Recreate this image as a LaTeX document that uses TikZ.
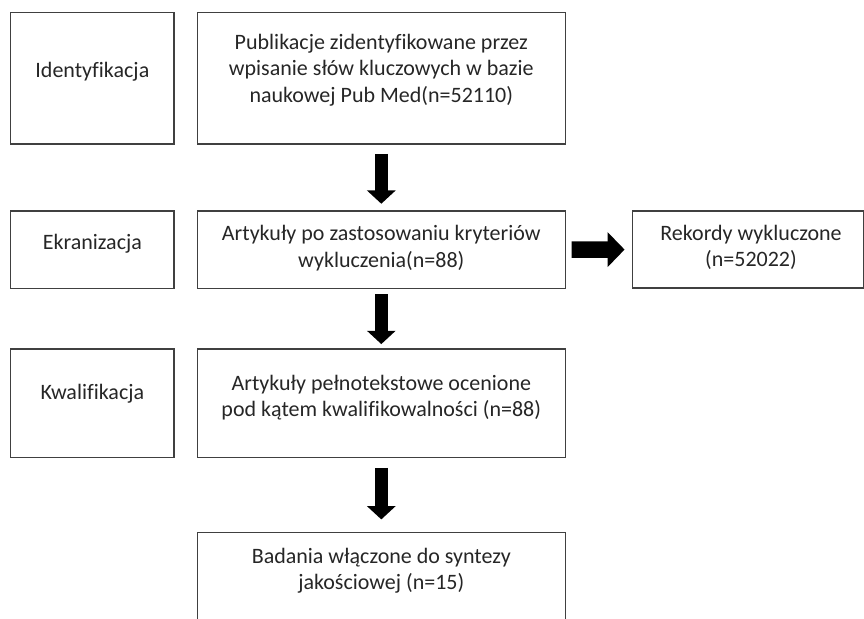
\documentclass[tikz,border=0pt]{standalone}
\usepackage{fontspec}
\setmainfont{Carlito}[Ligatures=NoCommon]
\usetikzlibrary{arrows.meta}

\tikzset{
  box/.style={draw=black!75, line width=0.9pt, rectangle, inner sep=0pt},
  boxtext/.style={align=center, text=black!85, inner sep=0pt,
    font=\fontsize{16.5}{20}\selectfont},
  downarrow/.style={-{Triangle[length=10pt,width=21pt]}, line width=9.5pt},
  sidearrow/.style={-{Triangle[length=12.75pt,width=25.5pt]}, line width=12.5pt}
}

\begin{document}
\begin{tikzpicture}[x=0.75pt,y=-0.75pt]

\useasboundingbox (0,0) rectangle (864,618);
\clip (0,0) rectangle (864,618);

% Ramki - etapy (lewa kolumna)
\node[box, minimum width=122.5pt, minimum height=98.5pt] (ident) at (92.35,78.35) {};
\node[box, minimum width=122.5pt, minimum height=58.1pt] (ekran) at (92.35,249.75) {};
\node[box, minimum width=122.5pt, minimum height=81.5pt] (kwal) at (92.35,403.35) {};

% Ramki - przeplyw (srodkowa kolumna)
\node[box, minimum width=276pt, minimum height=98.5pt] (pub) at (381.3,78.35) {};
\node[box, minimum width=276pt, minimum height=58.1pt] (scr) at (381.3,249.75) {};
\node[box, minimum width=276pt, minimum height=81.5pt] (full) at (381.3,403.35) {};
\node[box, minimum width=276pt, minimum height=95.5pt] (incl) at (381.3,596.35) {};

% Ramka - wykluczone
\node[box, minimum width=173.1pt, minimum height=57.75pt] (rec) at (747.9,249.5) {};

% Teksty
\node[boxtext] (identT) at (92.35,71.7) {Identyfikacja};
\node[boxtext] (ekranT) at (92.35,243.3) {Ekranizacja};
\node[boxtext] (kwalT) at (92.35,394) {Kwalifikacja};
\node[boxtext] (pubT) at (381.3,70) {Publikacje zidentyfikowane przez\\wpisanie słów kluczowych w bazie\\naukowej Pub Med(n=52110)};
\node[boxtext] (scrT) at (381.3,248.3) {Artykuły po zastosowaniu kryteriów\\wykluczenia(n=88)};
\node[boxtext] (fullT) at (381.3,397.5) {Artykuły pełnotekstowe ocenione\\pod kątem kwalifikowalności (n=88)};
\node[boxtext] (inclT) at (381.3,570.8) {Badania włączone do syntezy\\jakościowej (n=15)};
\node[boxtext] (recT) at (751,247.5) {Rekordy wykluczone\\(n=52022)};

% Strzalki
\draw[downarrow, shorten <=7pt, shorten >=5pt] (pub) -- (scr);
\draw[downarrow, shorten <=3.75pt, shorten >=3.25pt] (scr) -- (full);
\draw[downarrow, shorten <=7.2pt, shorten >=9.5pt] (full) -- (incl);
\draw[sidearrow, shorten <=4.3pt, shorten >=5.5pt] (scr) -- (rec);

\end{tikzpicture}
\end{document}
